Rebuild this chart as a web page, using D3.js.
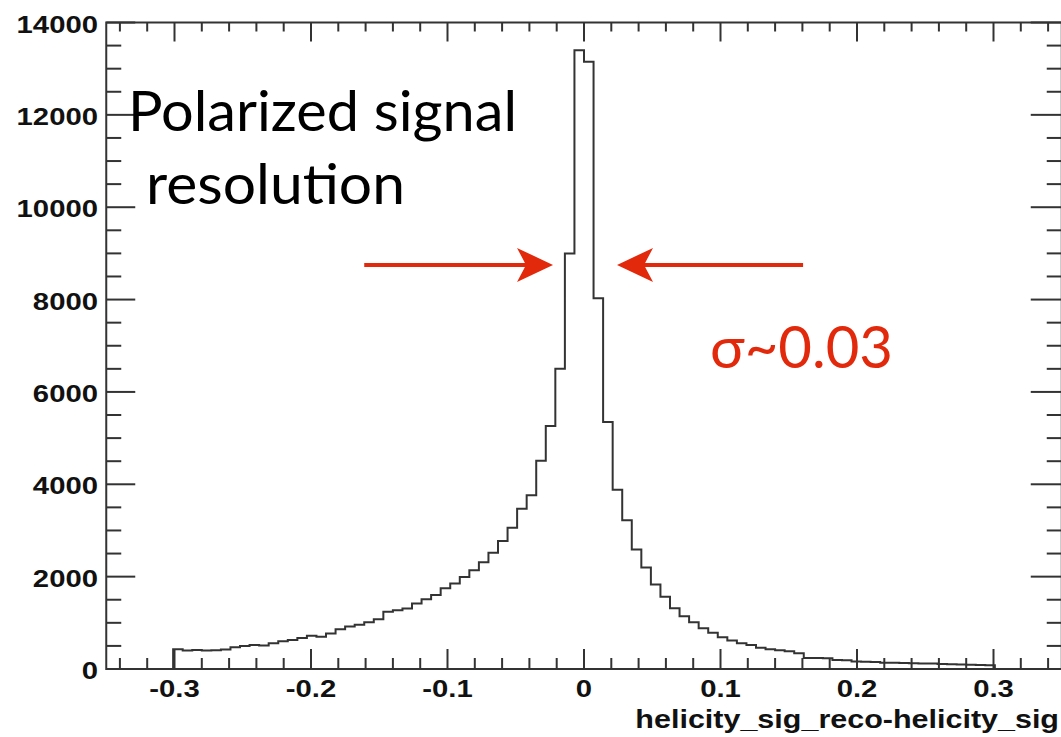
<!DOCTYPE html>
<html>
<head>
<meta charset="utf-8">
<script src="https://cdn.jsdelivr.net/npm/d3@7"></script>
<style>
  body { margin: 0; background: #fff; }
  svg { display: block; }
</style>
</head>
<body>
<div id="chart"></div>
<script>

// Histogram bins: width 0.007, non-empty from -0.301 to 0.301
const histStart = -0.301
const binWidth = 0.007
const counts = [
    430, 400, 410, 400, 405, 420,
    470, 500, 520, 510, 560, 600, 630, 670, 720, 700,
    770, 860, 920, 960, 1010, 1080, 1240, 1270, 1310, 1420,
    1510, 1600, 1750, 1850, 1990, 2140, 2310, 2520, 2770, 3060,
    3470, 3760, 4510, 5260, 6500, 9000, 13400, 13150, 8030, 5350,
    3880, 3220, 2590, 2200, 1830, 1566, 1316, 1140, 1010, 883,
    785, 690, 618, 558, 520, 461, 426, 405, 385, 340,
    240, 238, 232, 195, 190, 160, 156, 150, 138, 135,
    130, 123, 120, 118, 108, 105, 100, 90, 85, 80
]

const xDomain = [-0.35, 0.35]
const yDomain = [0, 14000]
const xTickValues = [-0.3, -0.2, -0.1, 0, 0.1, 0.2, 0.3]
const xTickLabels = ["-0.3", "-0.2", "-0.1", "0", "0.1", "0.2", "0.3"]
const yTickValues = [0, 2000, 4000, 6000, 8000, 10000, 12000, 14000]
const yTickLabels = ["0", "2000", "4000", "6000", "8000", "10000", "12000", "14000"]
const xTitle = "helicity_sig_reco-helicity_sig"

// annotation arrows (data coords): [tail, tip]
const arrowY = 8750
const arrowRight = [-0.161, -0.0227]
const arrowLeft = [0.1605, 0.0242]

const width = 1061
const height = 737
const red = "#e2290b"
const ink = "#333"

const svg = d3.select("#chart")
    .append("svg")
    .attr("width", width)
    .attr("height", height)

const x = d3.scaleLinear().domain(xDomain).range([106.25, 1061.75])
const y = d3.scaleLinear().domain(yDomain).range([669, 22.5])

// Frame
svg.append("rect")
    .attr("x", x(xDomain[0]))
    .attr("y", y(yDomain[1]))
    .attr("width", x(xDomain[1]) - x(xDomain[0]))
    .attr("height", y(yDomain[0]) - y(yDomain[1]))
    .attr("fill", "none")
    .attr("stroke", ink)
    .attr("stroke-width", 2)

// Ticks (ROOT style, pointing inwards on all four sides)
const xMinor = d3.range(-0.34, 0.35, 0.02).filter(v => !xTickValues.some(t => Math.abs(t - v) < 1e-6))
const yMinor = d3.range(0, 14001, 500).filter(v => v % 2000 !== 0)

const ticks = svg.append("g").attr("stroke", ink).attr("stroke-width", 2)

function xTick(v, lenBottom, lenTop) {
    ticks.append("line")
        .attr("x1", x(v)).attr("x2", x(v))
        .attr("y1", y(0)).attr("y2", y(0) - lenBottom)
    ticks.append("line")
        .attr("x1", x(v)).attr("x2", x(v))
        .attr("y1", y(14000)).attr("y2", y(14000) + lenTop)
}
function yTick(v, lenLeft, lenRight) {
    ticks.append("line")
        .attr("x1", x(xDomain[0])).attr("x2", x(xDomain[0]) + lenLeft)
        .attr("y1", y(v)).attr("y2", y(v))
    ticks.append("line")
        .attr("x1", x(xDomain[1])).attr("x2", x(xDomain[1]) - lenRight)
        .attr("y1", y(v)).attr("y2", y(v))
}
xTickValues.forEach(v => xTick(v, 20, 19))
xMinor.forEach(v => xTick(v, 11, 9))
yTickValues.forEach(v => yTick(v, 29, 31))
yMinor.forEach(v => yTick(v, 15, 15))

// Tick labels: bold Helvetica, stretched wide
const labelFont = "'Liberation Sans', Arial, Helvetica, sans-serif"
const stretch = 1.22

svg.append("g").selectAll("g")
    .data(xTickValues)
    .join("g")
    .attr("transform", d => `translate(${x(d)}, 697) scale(${stretch}, 1)`)
    .append("text")
    .attr("text-anchor", "middle")
    .attr("font-family", labelFont)
    .attr("font-weight", "bold")
    .attr("font-size", 24)
    .attr("fill", "#111")
    .text((d, i) => xTickLabels[i])

svg.append("g").selectAll("g")
    .data(yTickValues)
    .join("g")
    .attr("transform", d => `translate(98, ${y(d) + 10}) scale(${stretch}, 1)`)
    .append("text")
    .attr("text-anchor", "end")
    .attr("font-family", labelFont)
    .attr("font-weight", "bold")
    .attr("font-size", 24)
    .attr("fill", "#111")
    .text((d, i) => yTickLabels[i])

svg.append("g")
    .attr("transform", `translate(1059, 728) scale(${stretch}, 1)`)
    .append("text")
    .attr("text-anchor", "end")
    .attr("font-family", labelFont)
    .attr("font-weight", "bold")
    .attr("font-size", 25)
    .attr("fill", "#111")
    .text(xTitle)

// Histogram outline
const edges = d3.range(counts.length + 1).map(i => histStart + i * binWidth)
const pts = [[edges[0], 0]]
counts.forEach((c, i) => pts.push([edges[i], c]))
pts.push([edges[counts.length], counts[counts.length - 1]])
pts.push([edges[counts.length], 0])

const line = d3.line()
    .x(d => x(d[0]))
    .y(d => y(d[1]))
    .curve(d3.curveStepAfter)

svg.append("path")
    .datum(pts)
    .attr("d", line)
    .attr("fill", "none")
    .attr("stroke", ink)
    .attr("stroke-width", 2)

// Annotation text
const annFont = "Lato, 'Open Sans', 'DejaVu Sans', sans-serif"

svg.append("text")
    .attr("x", 128).attr("y", 131)
    .attr("font-family", annFont)
    .attr("font-size", 56)
    .attr("textLength", 389)
    .attr("lengthAdjust", "spacingAndGlyphs")
    .attr("fill", "#000")
    .text("Polarized signal")

svg.append("text")
    .attr("x", 146).attr("y", 204)
    .attr("font-family", annFont)
    .attr("font-size", 56)
    .attr("textLength", 259)
    .attr("lengthAdjust", "spacingAndGlyphs")
    .attr("fill", "#000")
    .text("resolution")

svg.append("text")
    .attr("x", 710).attr("y", 368)
    .attr("font-family", annFont)
    .attr("font-size", 58)
    .attr("textLength", 183)
    .attr("lengthAdjust", "spacingAndGlyphs")
    .attr("fill", red)
    .text("σ~0.03")

// Arrows
function arrow(tail, tip) {
    const ay = y(arrowY)
    const x0 = x(tail), x1 = x(tip)
    const dir = Math.sign(x1 - x0)
    svg.append("line")
        .attr("x1", x0).attr("x2", x1 - dir * 26)
        .attr("y1", ay).attr("y2", ay)
        .attr("stroke", red)
        .attr("stroke-width", 4)
    svg.append("path")
        .attr("d", `M${x1},${ay} L${x1 - dir * 36},${ay - 17} L${x1 - dir * 27},${ay} L${x1 - dir * 36},${ay + 17} Z`)
        .attr("fill", red)
}
arrow(arrowRight[0], arrowRight[1])
arrow(arrowLeft[0], arrowLeft[1])

</script>
</body>
</html>
